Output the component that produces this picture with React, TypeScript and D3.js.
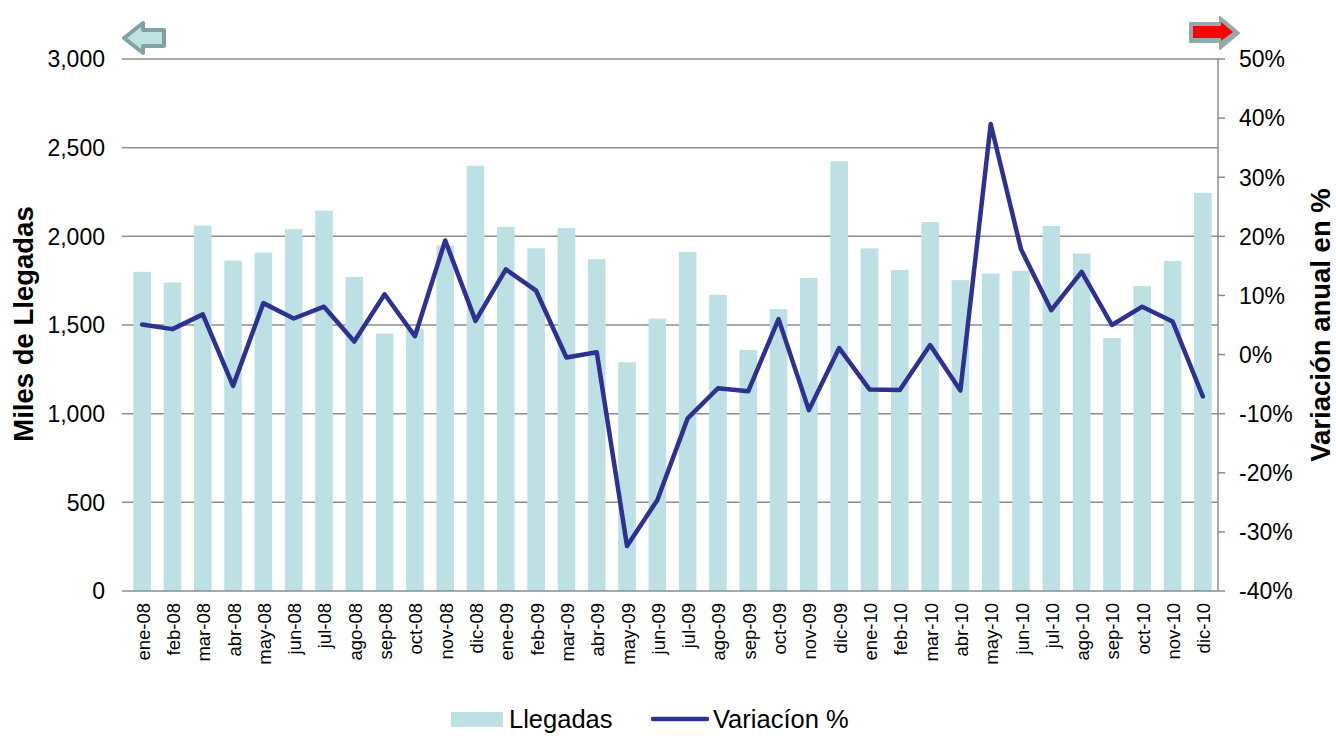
import React from 'react'
import * as d3 from 'd3'

const months = [
  'ene-08', 'feb-08', 'mar-08', 'abr-08', 'may-08', 'jun-08', 'jul-08', 'ago-08', 'sep-08', 'oct-08', 'nov-08', 'dic-08',
  'ene-09', 'feb-09', 'mar-09', 'abr-09', 'may-09', 'jun-09', 'jul-09', 'ago-09', 'sep-09', 'oct-09', 'nov-09', 'dic-09',
  'ene-10', 'feb-10', 'mar-10', 'abr-10', 'may-10', 'jun-10', 'jul-10', 'ago-10', 'sep-10', 'oct-10', 'nov-10', 'dic-10',
]

const llegadas = [
  1800, 1740, 2060, 1863, 1908, 2040, 2145, 1771, 1451, 1480, 1948, 2398,
  2053, 1933, 2047, 1871, 1290, 1536, 1912, 1669, 1359, 1590, 1765, 2423,
  1932, 1810, 2081, 1753, 1790, 1806, 2058, 1903, 1426, 1719, 1861, 2245,
]

const variacion = [
  5.1, 4.3, 6.8, -5.3, 8.7, 6.1, 8.1, 2.2, 10.2, 3.1, 19.3, 5.7,
  14.4, 10.8, -0.5, 0.4, -32.4, -24.6, -10.8, -5.7, -6.2, 6.0, -9.4, 1.1,
  -5.9, -6.0, 1.6, -6.1, 39.0, 17.8, 7.5, 14.0, 5.0, 8.1, 5.6, -7.1,
]

const leftTicks = [0, 500, 1000, 1500, 2000, 2500, 3000]
const rightTicks = [-40, -30, -20, -10, 0, 10, 20, 30, 40, 50]

const W = 1336
const H = 736
const m = { left: 127, right: 1218, top: 59, bottom: 591 }
const font = '"Liberation Sans", Arial, sans-serif'
const barColor = '#bce0e3'
const lineColor = '#2e3192'
const gridColor = '#8c8c8c'

export default function App() {
  const x = d3.scaleBand<string>().domain(months).range([m.left, m.right]).paddingInner(0.42).paddingOuter(0.21)
  const yL = d3.scaleLinear().domain([0, 3000]).range([m.bottom, m.top])
  const yR = d3.scaleLinear().domain([-40, 50]).range([m.bottom, m.top])
  const fmt = d3.format(',')
  const cx = (d: string) => (x(d) ?? 0) + x.bandwidth() / 2

  const line = d3.line<number>()
    .x((_, i) => cx(months[i]))
    .y(d => yR(d))

  return (
    <svg width={W} height={H} style={{ position: 'absolute', left: 0, top: 0, background: '#fff' }} fontFamily={font}>
      {/* arrows */}
      <path d="M124,38 L143,23 L143,30 L164,30 L164,46 L143,46 L143,53 Z"
        fill="#bfe2e4" stroke="#80a2a3" strokeWidth={4} strokeLinejoin="round" />
      <path d="M1190,23 L1220,23 L1220,17 L1239,33 L1220,49 L1220,42 L1190,42 Z"
        fill="#8fabab" stroke="#8fabab" strokeWidth={2} strokeLinejoin="round" />
      <path d="M1193,26 L1221,26 L1221,22 L1233,32 L1221,41 L1221,38 L1193,38 Z" fill="#ff0000" />

      {/* gridlines */}
      {leftTicks.filter(t => t > 0).map(t => (
        <line key={t} x1={m.left} x2={m.right} y1={yL(t)} y2={yL(t)} stroke={gridColor} strokeWidth={1.5} />
      ))}
      {leftTicks.map(t => (
        <line key={'lt' + t} x1={m.left - 5} x2={m.left} y1={yL(t)} y2={yL(t)} stroke={gridColor} strokeWidth={1.5} />
      ))}

      {/* bars */}
      {months.map((d, i) => (
        <rect key={d} x={x(d)} y={yL(llegadas[i])} width={x.bandwidth()} height={m.bottom - yL(llegadas[i])} fill={barColor} />
      ))}

      {/* axes */}
      <line x1={m.left} x2={m.right} y1={m.bottom} y2={m.bottom} stroke={gridColor} strokeWidth={1.5} />
      <line x1={m.right} x2={m.right} y1={m.top} y2={m.bottom} stroke={gridColor} strokeWidth={1.5} />
      {rightTicks.map(t => (
        <line key={t} x1={m.right} x2={m.right + 7} y1={yR(t)} y2={yR(t)} stroke={gridColor} strokeWidth={1.5} />
      ))}

      {/* line */}
      <path d={line(variacion) ?? ''} fill="none" stroke={lineColor} strokeWidth={4.5} strokeLinejoin="round" strokeLinecap="round" />

      {/* left tick labels */}
      {leftTicks.map(t => (
        <text key={t} x={105} y={yL(t)} dy="0.36em" textAnchor="end" fontSize={23} fill="#000">{fmt(t)}</text>
      ))}
      {/* right tick labels */}
      {rightTicks.map(t => (
        <text key={t} x={1239} y={yR(t)} dy="0.36em" textAnchor="start" fontSize={23} fill="#000">{`${t}%`}</text>
      ))}

      {/* x labels */}
      {months.map(d => (
        <text key={d} transform={`translate(${cx(d) + 7.5},${m.bottom + 12}) rotate(-90)`} textAnchor="end" fontSize={18.5} fill="#000">{d}</text>
      ))}

      {/* axis titles */}
      <text transform={`translate(33,324) rotate(-90)`} textAnchor="middle" fontSize={27.5} fontWeight="bold">Miles de Llegadas</text>
      <text transform={`translate(1330,325) rotate(-90)`} textAnchor="middle" fontSize={27.5} fontWeight="bold">Variación anual en %</text>

      {/* legend */}
      <rect x={451} y={712} width={52} height={15} fill={barColor} />
      <text x={509} y={728} fontSize={25.5}>Llegadas</text>
      <line x1={653} x2={707} y1={719} y2={719} stroke={lineColor} strokeWidth={4.5} strokeLinecap="round" />
      <text x={713} y={728} fontSize={25.5}>Variacíon %</text>
    </svg>
  )
}
